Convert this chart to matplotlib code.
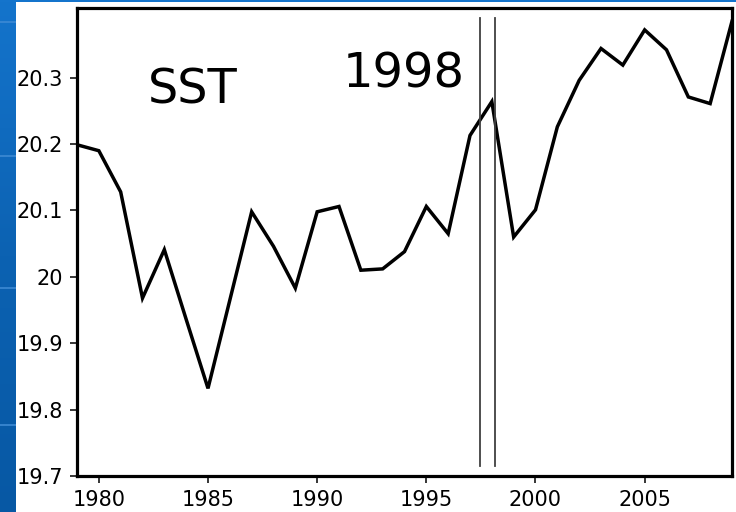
import numpy as np
import matplotlib
matplotlib.use("Agg")
import matplotlib.pyplot as plt
from matplotlib.colors import LinearSegmentedColormap

# annual mean sea surface temperature
years = list(range(1979, 2010))
sst = [20.199, 20.190, 20.128, 19.968, 20.041, 19.936, 19.832, 19.965,
       20.098, 20.046, 19.983, 20.098, 20.106, 20.010, 20.012, 20.038,
       20.106, 20.065, 20.213, 20.264, 20.060, 20.101, 20.226, 20.296,
       20.344, 20.319, 20.372, 20.342, 20.271, 20.261, 20.385]

xticks = [1980, 1985, 1990, 1995, 2000, 2005]
yticks = [19.7, 19.8, 19.9, 20.0, 20.1, 20.2, 20.3]
ytick_labels = ["19.7", "19.8", "19.9", "20", "20.1", "20.2", "20.3"]

# bracket around the 1998 event
event_lines = [1997.45, 1998.15]

W, H = 736, 512
fig = plt.figure(figsize=(W / 100, H / 100), dpi=100)
fig.patch.set_facecolor("white")

# blue slide frame: left strip and thin top band
blue = LinearSegmentedColormap.from_list("slide", ["#1474cc", "#0c62b2", "#0758a4"])
grad = np.linspace(0, 1, 256).reshape(-1, 1)
strip = fig.add_axes([0, 0, 16 / W, 1])
strip.imshow(grad, aspect="auto", cmap=blue, extent=[0, 1, 0, 1], origin="upper")
for yy in [22, 156, 288, 425]:
    strip.axhline(1 - yy / H, color="#3d8ad4", lw=1.2)
strip.set_xlim(0, 1)
strip.set_ylim(0, 1)
strip.axis("off")
band = fig.add_axes([0, 1 - 2 / H, 1, 2 / H])
band.imshow(np.zeros((1, 2)), aspect="auto", cmap=blue, vmin=0, vmax=1)
band.axis("off")

ax = fig.add_axes([77 / W, 36 / H, 655 / W, 468 / H])
ax.plot(years, sst, color="black", lw=2.5, solid_joinstyle="miter")
for xv in event_lines:
    ax.plot([xv, xv], [19.715, 20.39], color="#404040", lw=1.3)

ax.set_xlim(1979, 2009)
ax.set_ylim(19.7, 20.405)
ax.set_xticks(xticks)
ax.set_yticks(yticks)
ax.set_yticklabels(ytick_labels)
for sp in ax.spines.values():
    sp.set_linewidth(2.3)
ax.tick_params(axis="both", direction="out", length=5, width=1.1,
               labelsize=15, colors="black")
ax.tick_params(axis="y", pad=5)
ax.tick_params(axis="x", pad=5)

# labels placed in pixel coordinates (origin bottom-left)
ax.text(148, H - 103, "SST", transform=None, fontsize=34.5,
        family="DejaVu Sans", va="baseline")
ax.text(343, H - 87, "1998", transform=None, fontsize=34.5,
        family="DejaVu Sans", va="baseline")

fig.savefig("out.png", dpi=100)
